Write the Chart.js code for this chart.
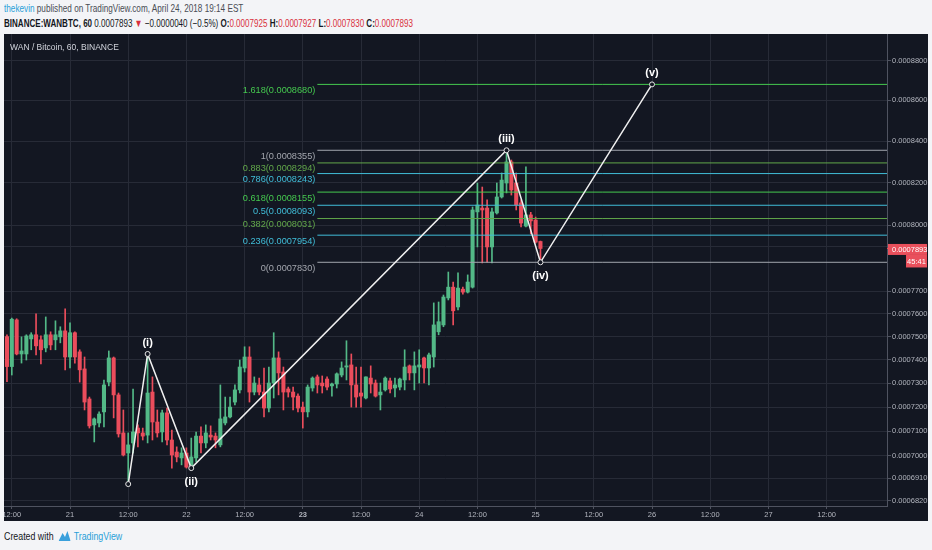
<!DOCTYPE html>
<html>
<head>
<meta charset="utf-8">
<title>WAN / Bitcoin, 60, BINANCE</title>
<script src="https://cdn.jsdelivr.net/npm/chart.js@4.4.1/dist/chart.umd.min.js"></script>
<style>
  body { margin: 0; width: 932px; height: 550px; overflow: hidden; background: #f3f4f7;
         font-family: "Liberation Sans", Arial, sans-serif; position: relative; }
  .fit { position: absolute; white-space: nowrap; display: inline-block; transform-origin: 0 50%; }
  #l1 { left: 4px; top: 2px; font-size: 11px; line-height: 12px; color: #4a4d55; }
  #l2 { left: 4px; top: 17px; font-size: 11px; line-height: 12px; color: #131722; }
  .blue { color: #2a9fd8; }
  .red { color: #d9303c; }
  #panel { position: absolute; left: 4px; top: 34px; width: 924px; height: 487px; background: #131722; }
  #foot { left: 4px; top: 530px; font-size: 11px; line-height: 12px; color: #131722; }
  #foot svg { vertical-align: -1px; margin: 0 4px 0 6px; }
</style>
</head>
<body>
<div class="fit" id="l1" data-w="239"><span class="blue">thekevin</span> published on TradingView.com, April 24, 2018 19:14 EST</div>
<div class="fit" id="l2" data-w="409"><b>BINANCE:WANBTC, 60</b> 0.0007893 <span class="red">▼</span> −0.0000040 (−0.5%) <b>O:</b><span class="red">0.0007925</span> <b>H:</b><span class="red">0.0007927</span> <b>L:</b><span class="red">0.0007830</span> <b>C:</b><span class="red">0.0007893</span></div>
<div id="panel"><canvas id="chart" width="924" height="487"></canvas></div>
<div class="fit" id="foot" data-w="118">Created with<svg width="15" height="10" viewBox="0 0 15 10"><path d="M0 10 L5 2 L8 6 L11 0 L15 10 Z" fill="#3aa0dc"/></svg><span class="blue">TradingView</span></div>

<script>
"use strict";

// prices are in units of 0.0000001 BTC, one candle per hour
// hour 0 = 21 Apr 00:00, first candle 20 Apr 11:00
const firstHour = -13;

const opens = [
  7500, 7371, 7573, 7425, 7425, 7490, 7508, 7486, 7451, 7508, 7486, 7499,
  7525, 7412, 7517, 7434, 7361, 7234, 7126, 7134, 7180, 7305, 7408, 7251,
  7093, 7011, 7052, 7113, 7093, 7084, 7263, 7138, 7097, 7176, 7064, 7015,
  6991, 7011, 6954, 6991, 7080, 7052, 7084, 7080, 7044, 7134, 7159, 7221,
  7272, 7365, 7412, 7263, 7293, 7263, 7196, 7301, 7408, 7348, 7276, 7263,
  7246, 7200, 7180, 7280, 7327, 7301, 7318, 7289, 7297, 7335, 7369, 7378,
  7293, 7259, 7238, 7322, 7301, 7251, 7272, 7310, 7280, 7284, 7314, 7374,
  7344, 7369, 7408, 7365, 7412, 7521, 7551, 7670, 7718, 7630, 7709, 7696,
  7718, 8062, 8080, 8080, 7900, 8057, 8132, 8198, 8299, 8198, 8104, 7996,
  8048, 8024, 7925
];
const highs = [
  7508, 7581, 7578, 7499, 7508, 7517, 7600, 7503, 7586, 7521, 7569, 7543,
  7622, 7560, 7521, 7443, 7412, 7242, 7155, 7180, 7314, 7438, 7412, 7259,
  7188, 7093, 7276, 7126, 7113, 7425, 7327, 7188, 7188, 7196, 7105, 7036,
  7032, 7032, 7072, 7097, 7118, 7126, 7122, 7093, 7293, 7242, 7242, 7293,
  7399, 7456, 7456, 7327, 7322, 7365, 7369, 7517, 7434, 7369, 7284, 7284,
  7255, 7221, 7293, 7327, 7335, 7331, 7327, 7301, 7344, 7391, 7482, 7425,
  7369, 7369, 7327, 7374, 7314, 7301, 7327, 7322, 7322, 7322, 7443, 7378,
  7434, 7443, 7412, 7429, 7648, 7652, 7683, 7786, 7741, 7782, 7718, 7773,
  8085, 8198, 8179, 8118, 8080, 8198, 8246, 8355, 8308, 8246, 8118, 8275,
  8060, 8038, 7927
];
const lows = [
  7307, 7335, 7421, 7386, 7399, 7443, 7421, 7382, 7434, 7443, 7443, 7473,
  7357, 7365, 7386, 7305, 7188, 7113, 7056, 7118, 7118, 7289, 7155, 7076,
  6999, 6886, 7011, 7036, 7064, 7052, 7064, 7076, 7056, 7044, 6950, 6975,
  6963, 6950, 6948, 6975, 7011, 7032, 7064, 7032, 7036, 7126, 7155, 7209,
  7259, 7348, 7221, 7251, 7251, 7159, 7180, 7238, 7251, 7188, 7242, 7188,
  7180, 7113, 7159, 7267, 7259, 7259, 7272, 7246, 7280, 7327, 7314, 7200,
  7200, 7200, 7234, 7259, 7242, 7188, 7267, 7259, 7242, 7272, 7272, 7314,
  7272, 7301, 7301, 7293, 7369, 7508, 7543, 7661, 7551, 7617, 7687, 7692,
  7714, 7900, 7827, 7831, 7827, 8052, 8127, 8151, 8141, 8071, 7992, 7992,
  7960, 7918, 7830
];
const closes = [
  7371, 7576, 7425, 7438, 7503, 7508, 7460, 7443, 7508, 7464, 7508, 7525,
  7412, 7517, 7412, 7357, 7221, 7122, 7151, 7171, 7293, 7408, 7251, 7089,
  7003, 7044, 7097, 7093, 7080, 7259, 7138, 7093, 7176, 7064, 7003, 6995,
  7011, 6954, 6995, 7080, 7052, 7093, 7076, 7064, 7151, 7159, 7200, 7272,
  7369, 7412, 7263, 7301, 7263, 7196, 7301, 7408, 7344, 7263, 7263, 7242,
  7196, 7180, 7284, 7322, 7293, 7289, 7284, 7297, 7340, 7365, 7374, 7293,
  7242, 7246, 7327, 7297, 7246, 7263, 7322, 7276, 7293, 7318, 7369, 7344,
  7374, 7378, 7365, 7421, 7551, 7565, 7674, 7718, 7613, 7714, 7696, 7741,
  8071, 8094, 8071, 7900, 8062, 8132, 8212, 8299, 8165, 8094, 8010, 8048,
  8020, 7922, 7893
];

// elliott wave drawing
const waveHours = [12, 16, 25, 90, 97, 120];
const wavePrices = [6886, 7425, 6950, 8355, 7830, 8680];
const waveLabels = ['', '(i)', '(ii)', '(iii)', '(iv)', '(v)'];

// fib retracement drawing
const fibStartHour = 51;
const fibLevels = ['1.618', '1', '0.883', '0.786', '0.618', '0.5', '0.382', '0.236', '0'];
const fibPrices = [8680, 8355, 8294, 8243, 8155, 8093, 8031, 7954, 7830];

// axes
const xTickHours = [-12, 0, 12, 24, 36, 48, 60, 72, 84, 96, 108, 120, 132, 144, 156];
const xTickLabels = ['12:00', '21', '12:00', '22', '12:00', '23', '12:00', '24',
                     '12:00', '25', '12:00', '26', '12:00', '27', '12:00'];
const yTicks = [6820, 6910, 7000, 7100, 7200, 7300, 7400, 7500, 7600, 7700, 7900, 8000, 8200, 8400, 8600, 8800];
const yUnlabeled = [7900];

const UP = '#53b987', DOWN = '#eb4d5c';
const FIB_GREEN = '#45c94f', FIB_OLIVE = '#62a84a', FIB_CYAN = '#40bdd8', FIB_GRAY = '#a3a6ae';
const fibColors = [FIB_GREEN, FIB_GRAY, FIB_OLIVE, FIB_CYAN, FIB_GREEN, FIB_CYAN, FIB_OLIVE, FIB_CYAN, FIB_GRAY];
const FONT = '"Liberation Sans", Arial, sans-serif';
const GRID = '#272b37', AXIS = '#4f5360';

const xMin = -13.61, xMax = 168.45;

const hours = opens.map((_, i) => firstHour + i);
const candleColors = opens.map((o, i) => closes[i] >= o ? UP : DOWN);

// fib lines
const fibSets = fibPrices.map((p, i) => ({
    type: 'line',
    data: [{x: fibStartHour, y: p}, {x: xMax, y: p}],
    borderColor: fibColors[i],
    borderWidth: 1,
    pointRadius: 0,
    order: 1
}));

//ritar texterna ovanpå diagrammet
const overlay = {
    id: 'overlay',
    afterDatasetsDraw(chart) {
        const {ctx, scales: {x, y}} = chart;
        ctx.save();

        ctx.font = '8.5px ' + FONT;
        ctx.fillStyle = '#d1d4dc';
        ctx.textAlign = 'left';
        ctx.textBaseline = 'middle';
        ctx.fillText('WAN / Bitcoin, 60, BINANCE', 6, 14);

        ctx.font = '9.2px ' + FONT;
        ctx.textAlign = 'right';
        fibLevels.forEach((lv, i) => {
            ctx.fillStyle = fibColors[i];
            ctx.fillText(lv + '(' + (fibPrices[i] / 1e7).toFixed(7) + ')',
                x.getPixelForValue(fibStartHour) - 2, y.getPixelForValue(fibPrices[i]) + 6);
        });

        ctx.font = 'bold 11px ' + FONT;
        ctx.textAlign = 'center';
        ctx.fillStyle = '#ffffff';
        waveLabels.forEach((t, i) => {
            if (!t) return;
            const px = x.getPixelForValue(waveHours[i]);
            const py = y.getPixelForValue(wavePrices[i]);
            const isLow = wavePrices[i] < wavePrices[i - 1];
            ctx.fillText(t, px, isLow ? py + 14 : py - 11);
        });
        ctx.restore();
    },
    afterDraw(chart) {
        const {ctx, chartArea, scales: {y}} = chart;
        const last = closes[closes.length - 1];
        const py = y.getPixelForValue(last);
        const r = chartArea.right;
        ctx.save();
        ctx.fillStyle = '#e9505c';
        ctx.fillRect(r, py - 0.5, 4, 1);
        ctx.fillRect(r + 1, py - 4.5, 39, 11);
        ctx.fillRect(r + 19, py + 6.5, 21, 12.5);
        ctx.fillStyle = '#ffffff';
        ctx.font = '7.5px ' + FONT;
        ctx.textBaseline = 'middle';
        ctx.textAlign = 'left';
        ctx.fillText((last / 1e7).toFixed(7), r + 5, py + 1);
        ctx.textAlign = 'center';
        ctx.fillText('45:41', r + 29.5, py + 13);
        ctx.restore();
    }
};

const chartEl = document.getElementById('chart');

new Chart(chartEl, {
    type: 'bar',
    data: {
        datasets: [
            {
                type: 'line',
                data: waveHours.map((h, i) => ({x: h, y: wavePrices[i]})),
                borderColor: '#f0f0f0',
                borderWidth: 1.5,
                pointRadius: 2.5,
                pointBorderWidth: 1,
                pointBorderColor: '#e6e6e6',
                pointBackgroundColor: '#131722',
                order: 0
            },
            ...fibSets,
            {
                data: hours.map((h, i) => ({x: h, y: [opens[i], closes[i]]})),
                backgroundColor: candleColors,
                barThickness: 3.4,
                minBarLength: 1,
                grouped: false,
                order: 2
            },
            {
                data: hours.map((h, i) => ({x: h, y: [lows[i], highs[i]]})),
                backgroundColor: candleColors,
                barThickness: 1,
                grouped: false,
                order: 3
            }
        ]
    },
    options: {
        responsive: false,
        animation: false,
        layout: {padding: 0, autoPadding: false},
        plugins: {legend: {display: false}, tooltip: {enabled: false}},
        scales: {
            x: {
                type: 'linear',
                min: xMin,
                max: xMax,
                offset: false,
                afterBuildTicks: s => { s.ticks = xTickHours.map(v => ({value: v})); },
                afterFit: s => { s.height = 15; s.paddingLeft = 0; s.paddingRight = 0; },
                grid: {color: GRID, tickColor: AXIS, tickLength: 3, offset: false},
                border: {color: AXIS},
                ticks: {
                    maxRotation: 0,
                    autoSkip: false,
                    padding: 1,
                    color: '#b2b5be',
                    font: c => ({family: FONT, size: 7.5,
                        weight: xTickLabels[c.index] === '23' ? 'bold' : 'normal'}),
                    callback: (v, i) => xTickLabels[i]
                }
            },
            y: {
                type: 'logarithmic',
                position: 'right',
                min: 6799.0,
                max: 8937.2,
                afterBuildTicks: s => { s.ticks = yTicks.map(v => ({value: v})); },
                afterFit: s => { s.width = 41; s.paddingTop = 0; s.paddingBottom = 0; },
                grid: {color: GRID, tickColor: AXIS, tickLength: 4},
                border: {color: AXIS},
                ticks: {
                    autoSkip: false,
                    padding: 1,
                    color: '#b2b5be',
                    font: {family: FONT, size: 7.5},
                    callback: v => yUnlabeled.includes(v) ? '' : (v / 1e7).toFixed(7)
                }
            }
        }
    },
    plugins: [overlay]
});

// trycker ihop rubrikraderna till rätt bredd
document.querySelectorAll('.fit').forEach(el => {
    el.style.transform = 'scaleX(' + (+el.dataset.w / el.offsetWidth) + ')';
});
</script>
</body>
</html>
